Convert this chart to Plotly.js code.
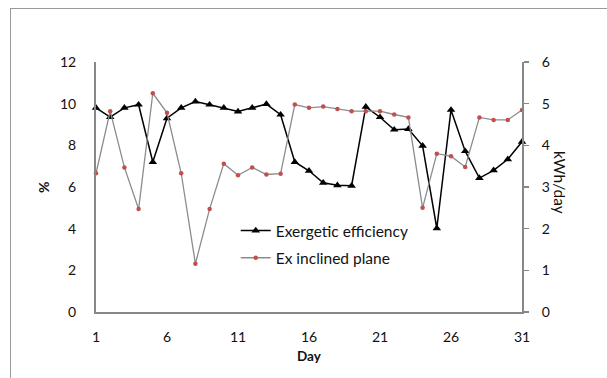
<!DOCTYPE html>
<html>
<head>
<meta charset="utf-8">
<script src="https://cdn.plot.ly/plotly-3.0.1.min.js"></script>
<style>
  html, body { margin: 0; padding: 0; background: #fff; }
  #wrap { position: relative; width: 607px; height: 378px; overflow: hidden; }
  #frame { position: absolute; left: 10px; top: 8px; width: 700px; height: 500px;
           border-left: 1px solid #9a9a9a; border-top: 1px solid #9a9a9a; pointer-events: none; }
  #chart { position: absolute; left: 0; top: 0; width: 607px; height: 378px; }
</style>
</head>
<body>
<div id="wrap">
  <div id="chart"></div>
  <div id="frame"></div>
</div>
<script>
const days = [1,2,3,4,5,6,7,8,9,10,11,12,13,14,15,16,17,18,19,20,21,22,23,24,25,26,27,28,29,30,31];
const exergeticEfficiency = [9.8,9.35,9.8,9.95,7.2,9.3,9.8,10.1,9.95,9.8,9.62,9.8,9.98,9.47,7.2,6.78,6.2,6.08,6.06,9.85,9.35,8.75,8.78,7.98,4.02,9.7,7.72,6.43,6.8,7.33,8.17];
const exInclinedPlane = [3.33,4.82,3.47,2.47,5.25,4.78,3.33,1.16,2.47,3.56,3.28,3.47,3.3,3.32,4.98,4.9,4.93,4.87,4.82,4.82,4.82,4.74,4.67,2.5,3.8,3.74,3.48,4.67,4.61,4.61,4.85];
const xTicks = [1,6,11,16,21,26,31];
const leftTicks = [0,2,4,6,8,10,12];
const rightTicks = [0,1,2,3,4,5,6];

const FONT = 'Lato, "Open Sans", sans-serif';
const AXIS = '#878787';

const traces = [
  {
    x: days, y: exergeticEfficiency, name: 'Exergetic efficiency',
    type: 'scatter', mode: 'lines+markers', yaxis: 'y',
    line: {color: '#000000', width: 1.5},
    marker: {symbol: 'triangle-up', size: 7.5, color: '#000000'},
    cliponaxis: false, legendgroup: 'a'
  },
  {
    x: days, y: exInclinedPlane, name: 'Ex inclined plane',
    type: 'scatter', mode: 'lines+markers', yaxis: 'y2',
    line: {color: '#8c8c8c', width: 1.3},
    marker: {symbol: 'circle', size: 4.5, color: '#c0504d'},
    cliponaxis: false, legendgroup: 'b'
  }
];

const layout = {
  width: 607, height: 378,
  margin: {l: 96, r: 85, t: 62, b: 66, pad: 0},
  paper_bgcolor: 'rgba(0,0,0,0)', plot_bgcolor: 'rgba(0,0,0,0)',
  font: {family: FONT, size: 14, color: '#111'},
  showlegend: true,
  legend: {x: 0.328, xanchor: 'left', y: 0.27, yanchor: 'middle',
           bgcolor: 'rgba(0,0,0,0)', borderwidth: 0,
           font: {family: FONT, size: 15.5, color: '#111'},
           traceorder: 'grouped', tracegroupgap: 4},
  xaxis: {
    range: [1, 31], tickmode: 'array', tickvals: xTicks, ticktext: xTicks.map(String),
    showgrid: false, zeroline: false, showline: true, linecolor: AXIS, linewidth: 2,
    ticks: '', ticklabelstandoff: 11, tickfont: {family: FONT, size: 14, color: '#111'}
  },
  yaxis: {
    range: [0, 12], tickmode: 'array', tickvals: leftTicks, ticktext: leftTicks.map(String),
    showgrid: false, zeroline: false, showline: true, linecolor: AXIS, linewidth: 2,
    ticks: '', ticklabelstandoff: 15, tickfont: {family: FONT, size: 14, color: '#111'}
  },
  yaxis2: {
    range: [0, 6], overlaying: 'y', side: 'right',
    tickmode: 'array', tickvals: rightTicks, ticktext: rightTicks.map(String),
    showgrid: false, zeroline: false, showline: true, linecolor: AXIS, linewidth: 2,
    ticks: 'outside', ticklen: 5, tickwidth: 1.5, tickcolor: AXIS, ticklabelstandoff: 10,
    tickfont: {family: FONT, size: 14, color: '#111'}
  },
  annotations: [
    {text: '<b>%</b>', xref: 'paper', yref: 'paper', x: (43 - 96) / 426, y: (312 - 188) / 250,
     xanchor: 'center', yanchor: 'middle', textangle: -90, showarrow: false,
     font: {family: FONT, size: 14, color: '#111'}},
    {text: 'kWh/day', xref: 'paper', yref: 'paper', x: (560 - 96) / 426, y: (312 - 182) / 250,
     xanchor: 'center', yanchor: 'middle', textangle: 90, showarrow: false,
     font: {family: FONT, size: 15.5, color: '#111'}},
    {text: '<b>Day</b>', xref: 'paper', yref: 'paper', x: 0.5, y: (312 - 356) / 250,
     xanchor: 'center', yanchor: 'middle', showarrow: false,
     font: {family: FONT, size: 13.5, color: '#111'}}
  ]
};

Plotly.newPlot('chart', traces, layout, {displayModeBar: false, staticPlot: true});
</script>
</body>
</html>
